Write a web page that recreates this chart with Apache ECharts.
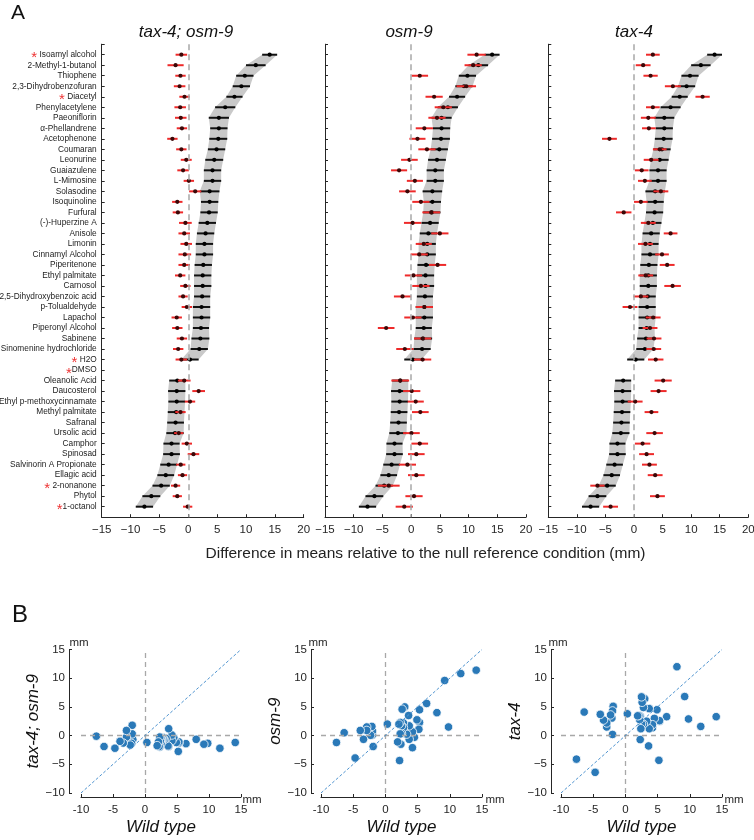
<!DOCTYPE html>
<html>
<head>
<meta charset="utf-8">
<script src="https://cdn.jsdelivr.net/npm/echarts@6/dist/echarts.min.js"></script>
<style>html,body{margin:0;padding:0;background:#fff;}#c{width:754px;height:840px;}</style>
</head>
<body>
<div id="c"></div>
<script>
// ---------- DATA ----------
const compounds = ["Isoamyl alcohol","2-Methyl-1-butanol","Thiophene","2,3-Dihydrobenzofuran","Diacetyl","Phenylacetylene","Paeoniflorin","α-Phellandrene","Acetophenone","Coumaran","Leonurine","Guaiazulene","L-Mimosine","Solasodine","Isoquinoline","Furfural","(-)-Huperzine A","Anisole","Limonin","Cinnamyl Alcohol","Piperitenone","Ethyl palmitate","Carnosol","2,5-Dihydroxybenzoic acid","p-Tolualdehyde","Lapachol","Piperonyl Alcohol","Sabinene","Sinomenine hydrochloride","H2O","DMSO","Oleanolic Acid","Daucosterol","Ethyl p-methoxycinnamate","Methyl palmitate","Safranal","Ursolic acid","Camphor","Spinosad","Salvinorin A Propionate","Ellagic acid","2-nonanone","Phytol","1-octanol"];
const starred = [0, 4, 29, 30, 41, 43];
const starNoSpace = [30, 43];

const wtMean = [14.1,11.7,9.8,9.2,8.0,6.4,5.3,5.3,5.2,4.9,4.5,4.2,4.2,3.7,3.7,3.6,3.3,3.0,2.8,2.8,2.6,2.5,2.5,2.4,2.3,2.3,2.2,2.1,1.9,0.3,null,-1.9,-2.0,-2.0,-2.1,-2.2,-2.3,-2.9,-2.9,-3.4,-3.9,-4.7,-6.4,-7.6];
const wtErr  = [1.3,1.7,1.5,1.5,1.4,1.75,1.75,1.5,1.55,1.5,1.55,1.5,1.5,1.7,1.5,1.5,1.5,1.5,1.5,1.5,1.5,1.5,1.5,1.4,1.5,1.5,1.4,1.55,1.5,1.5,null,1.4,1.5,1.45,1.45,1.45,1.5,1.4,1.45,1.45,1.45,1.5,1.55,1.5];

const dblMean = [-1.2,-2.2,-1.35,-1.5,-0.65,-1.4,-1.3,-1.1,-2.75,-1.2,-0.35,-0.9,0.1,1.2,-1.9,-1.8,-0.5,-0.7,-0.35,-0.6,-0.7,-1.4,-0.5,-0.9,-0.25,-2.0,-1.9,-1.1,-1.75,-1.2,null,-0.7,1.8,0.3,-1.35,null,-1.65,-0.25,0.9,-1.3,-1.0,-2.2,-1.9,-0.1];
const dblErr  = [1.0,1.4,0.9,1.0,0.9,1.0,1.0,0.9,0.9,0.9,0.95,1.0,0.9,1.05,0.9,0.9,1.1,1.0,1.0,1.1,1.0,0.9,0.9,0.8,0.9,0.9,0.9,0.9,0.9,1.0,null,1.1,1.1,0.9,0.9,null,0.8,0.9,1.0,0.8,0.8,0.8,0.8,0.8];

const osmMean = [11.4,10.8,1.5,9.6,4.0,5.6,4.5,2.3,1.1,2.75,-0.3,-2.1,0.65,-0.65,1.7,3.5,0.25,5.0,2.2,1.4,4.6,0.4,1.7,-1.5,2.3,0.3,-4.35,2.0,-1.1,2.0,null,-1.9,0.1,0.8,1.6,null,0.05,1.5,0.9,-0.65,0.9,-3.9,0.5,-1.2];
const osmErr  = [1.6,1.5,1.45,1.7,1.5,1.5,1.5,1.5,1.4,1.5,1.45,1.4,1.4,1.45,1.5,1.55,1.5,1.5,1.4,1.5,1.5,1.5,1.5,1.5,1.5,1.5,1.45,1.5,1.5,1.5,null,1.55,1.5,1.4,1.45,null,1.45,1.45,1.45,1.5,1.45,1.9,1.5,1.5];

const taxMean = [3.3,1.6,2.9,6.8,12.0,3.3,2.5,2.6,-4.3,4.5,3.0,1.35,1.9,4.7,1.2,-1.8,2.5,6.4,2.0,4.9,5.8,2.05,6.75,1.2,-0.7,3.35,2.8,3.5,3.45,3.8,null,5.1,4.3,0.2,3.05,null,3.6,1.5,2.2,2.7,3.7,-6.4,4.1,-4.1];
const taxErr  = [1.2,1.3,1.25,1.4,1.25,1.2,1.3,1.2,1.3,1.2,1.3,1.2,1.2,1.3,1.2,1.35,1.3,1.2,1.3,1.2,1.3,1.3,1.45,1.3,1.3,1.3,1.3,1.3,1.3,1.35,null,1.5,1.4,1.3,1.2,null,1.45,1.35,1.3,1.3,1.3,1.25,1.3,1.3];

const panelTitles = ["tax-4; osm-9", "osm-9", "tax-4"];
const xTicksA = [-15, 20, 5];   // min, max, step
const xTicksB = [-10, 15, 5];

// ---------- RENDER ----------
const FONT = "'Liberation Sans', Arial, 'DejaVu Sans', sans-serif";
const AXC = '#262626';
const mutants = [[dblMean, dblErr], [osmMean, osmErr], [taxMean, taxErr]];
const chart = echarts.init(document.getElementById('c'), null, {width: 754, height: 840});

function bandItem(params, api) {
  const segs = [];
  let start = null;
  for (let r = 0; r <= wtMean.length; r++) {
    const ok = r < wtMean.length && wtMean[r] != null;
    if (ok && start === null) start = r;
    if (!ok && start !== null) { segs.push([start, r - 1]); start = null; }
  }
  const children = segs.map(([a, b]) => {
    const pts = [];
    for (let r = a; r <= b; r++) pts.push(api.coord([wtMean[r] - wtErr[r], r]));
    for (let r = b; r >= a; r--) pts.push(api.coord([wtMean[r] + wtErr[r], r]));
    return {type: 'polygon', shape: {points: pts}, style: {fill: '#c9c9c9'}};
  });
  return {type: 'group', children};
}
function barRenderer(lineColor, dotColor) {
  return function (params, api) {
    const v = api.value(0), r = api.value(1), e = api.value(2);
    const a = api.coord([v - e, r]), b = api.coord([v + e, r]), c = api.coord([v, r]);
    return {type: 'group', children: [
      {type: 'line', shape: {x1: a[0], y1: a[1], x2: b[0], y2: b[1]}, style: {stroke: lineColor, lineWidth: 2}},
      {type: 'circle', shape: {cx: c[0], cy: c[1], r: 2.1}, style: {fill: dotColor}}
    ]};
  };
}
function rows(mean, err) {
  const out = [];
  mean.forEach((v, i) => { if (v != null) out.push([v, i, err[i]]); });
  return out;
}
const minus = v => String(v).replace('-', '\u2212');

const gridsA = [{left: 101.7, width: 202}, {left: 325, width: 201}, {left: 548.3, width: 200}];
const gridsB = [{left: 81, width: 160, off: 12, gap: 23}, {left: 321, width: 161, off: 10, gap: 17}, {left: 561, width: 161, off: 10, gap: 17}];

const grid = [], xAxis = [], yAxis = [], series = [], graphic = [];
gridsA.forEach((g, p) => {
  grid.push({left: g.left, top: 44.2, width: g.width, height: 473, containLabel: false, outerBoundsMode: 'none'});
  xAxis.push({
    gridIndex: p, type: 'value', min: xTicksA[0], max: xTicksA[1], interval: xTicksA[2],
    axisLine: {onZero: false, lineStyle: {color: AXC, width: 1}},
    axisTick: {inside: true, length: 3, lineStyle: {color: AXC}},
    axisLabel: {fontSize: 11.5, color: AXC, margin: 7, fontFamily: FONT, formatter: minus},
    splitLine: {show: false},
    name: p === 1 ? 'Difference in means relative to the null reference condition (mm)' : '',
    nameLocation: 'middle', nameGap: 29,
    nameTextStyle: {fontSize: 15.5, color: '#222', fontFamily: FONT}
  });
  yAxis.push({
    gridIndex: p, type: 'value', min: -1, max: compounds.length, interval: 1, inverse: true,
    axisLine: {onZero: false, lineStyle: {color: AXC, width: 1}},
    axisTick: {inside: true, length: 3, lineStyle: {color: AXC}},
    splitLine: {show: false},
    axisLabel: {
      show: p === 0, margin: 5, fontSize: 8.3, color: '#222', fontFamily: FONT,
      formatter: v => {
        const name = compounds[v];
        if (name === undefined) return '';
        if (starred.includes(v)) return '{s|*}' + (starNoSpace.includes(v) ? '' : ' ') + name;
        return name;
      },
      rich: {s: {color: '#ee3333', fontSize: 15, fontFamily: FONT, padding: [7, 0, 0, 0]}}
    }
  });
  series.push({
    type: 'custom', xAxisIndex: p, yAxisIndex: p, data: [[0, 0]], renderItem: bandItem, silent: true, z: 1,
    markLine: {silent: true, symbol: 'none', label: {show: false},
      lineStyle: {color: '#a8a8a8', type: [6, 4], width: 1.5}, data: [{xAxis: 0}]}
  });
  series.push({type: 'custom', xAxisIndex: p, yAxisIndex: p, z: 2, silent: true,
    data: rows(wtMean, wtErr), encode: {x: 0, y: 1}, renderItem: barRenderer('#111111', '#000000')});
  series.push({type: 'custom', xAxisIndex: p, yAxisIndex: p, z: 3, silent: true,
    data: rows(mutants[p][0], mutants[p][1]), encode: {x: 0, y: 1}, renderItem: barRenderer('#ee2a2a', '#3a0808')});
  graphic.push({type: 'text', x: [186, 409, 634][p], y: 32,
    style: {text: panelTitles[p], font: 'italic 17px ' + FONT, fill: '#111', textAlign: 'center', textVerticalAlign: 'middle'}});
});

gridsB.forEach((g, p) => {
  const gi = p + 3;
  grid.push({left: g.left, top: 649.5, width: g.width, height: 143.5, containLabel: false, outerBoundsMode: 'none'});
  xAxis.push({
    gridIndex: gi, type: 'value', min: xTicksB[0], max: xTicksB[1], interval: xTicksB[2], offset: 4,
    axisLine: {onZero: false, lineStyle: {color: AXC}},
    axisTick: {inside: true, length: 3, lineStyle: {color: AXC}},
    axisLabel: {fontSize: 11.5, color: AXC, margin: 7, fontFamily: FONT},
    splitLine: {show: false},
    name: 'Wild type', nameLocation: 'middle', nameGap: 22,
    nameTextStyle: {fontSize: 17, fontStyle: 'italic', color: '#111', fontFamily: FONT}
  });
  yAxis.push({
    gridIndex: gi, type: 'value', min: xTicksB[0], max: xTicksB[1], interval: xTicksB[2], offset: g.off,
    axisLine: {onZero: false, lineStyle: {color: AXC}},
    axisTick: {inside: true, length: 3, lineStyle: {color: AXC}},
    axisLabel: {fontSize: 11.5, color: AXC, margin: 4, fontFamily: FONT, formatter: minus},
    splitLine: {show: false},
    name: panelTitles[p], nameLocation: 'middle', nameGap: g.gap, nameRotate: 90,
    nameTextStyle: {fontSize: 17, fontStyle: 'italic', color: '#111', fontFamily: FONT}
  });
  const pts = [];
  wtMean.forEach((w, i) => { const m = mutants[p][0][i]; if (w != null && m != null) pts.push([w, m]); });
  series.push({
    type: 'scatter', xAxisIndex: gi, yAxisIndex: gi, data: [], z: 1, silent: true,
    markLine: {silent: true, symbol: 'none', label: {show: false}, animation: false,
      data: [
        {yAxis: 0, lineStyle: {color: '#a8a8a8', type: [5, 4], width: 1.3}},
        {xAxis: 0, lineStyle: {color: '#a8a8a8', type: [5, 4], width: 1.3}},
        [{coord: [xTicksB[0], xTicksB[0]], lineStyle: {color: '#4f94d0', type: [3, 2], width: 1}}, {coord: [xTicksB[1], xTicksB[1]]}]
      ]}
  });
  series.push({
    type: 'scatter', xAxisIndex: gi, yAxisIndex: gi, data: pts, z: 2, silent: true,
    symbolSize: 8.5, itemStyle: {color: '#2a79b8', borderColor: '#ffffff', borderWidth: 0.8, opacity: 1}
  });
  graphic.push({type: 'text', x: [79, 318, 558][p], y: 643, style: {text: 'mm', font: '11.5px ' + FONT, fill: AXC, textAlign: 'center', textVerticalAlign: 'middle'}});
  graphic.push({type: 'text', x: [252, 495, 734][p], y: 800, style: {text: 'mm', font: '11.5px ' + FONT, fill: AXC, textAlign: 'center', textVerticalAlign: 'middle'}});
});

graphic.push({type: 'text', x: 18, y: 13, style: {text: 'A', font: '21px ' + FONT, fill: '#111', textAlign: 'center', textVerticalAlign: 'middle'}});
graphic.push({type: 'text', x: 20, y: 615, style: {text: 'B', font: '24px ' + FONT, fill: '#111', textAlign: 'center', textVerticalAlign: 'middle'}});

chart.setOption({animation: false, backgroundColor: '#fff', textStyle: {fontFamily: FONT}, grid, xAxis, yAxis, series, graphic});
</script>
</body>
</html>
